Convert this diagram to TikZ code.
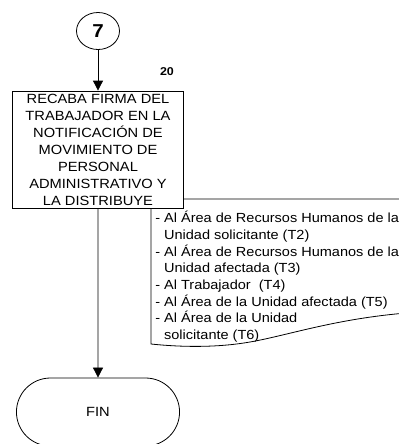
\documentclass[tikz,border=0pt]{standalone}
\usepackage{fontspec}
\setmainfont{Liberation Sans}[FakeStretch=1.1]
\usetikzlibrary{arrows.meta,shapes.misc,shapes.geometric}

\begin{document}
\begin{tikzpicture}[x=0.75pt, y=-0.75pt,
    flecha/.style={-{Triangle[length=7.5pt, width=7.5pt]}, line width=0.6pt},
    caja/.style={draw, fill=white, line width=0.6pt, inner sep=0pt},
    texto/.style={font=\fontsize{10}{12.75}\selectfont}]
    \useasboundingbox (0,0) rectangle (399,444);
    \clip (0,0) rectangle (399,444);
    \coordinate (d1) at (151, 199);
    \coordinate (d2) at (420, 199);
    \coordinate (d3) at (420, 312);
    \coordinate (d4) at (151, 344);
    \draw[line width=0.6pt, fill=white] (d1) -- (d2) -- (d3)
      .. controls (340, 317) and (290, 335) .. (250, 342)
      .. controls (210, 349) and (170, 346) .. (d4) -- cycle;
    \node[ellipse, draw, line width=0.6pt, minimum width=32.25pt, minimum height=27.75pt, inner sep=0pt,
      font=\fontsize{14}{16}\bfseries\selectfont] (c7) at (98, 31) {7};
    \node[font=\fontsize{8.5}{9}\bfseries\selectfont] (n20) at (167, 72) {20};
    \node[caja, texto, align=center, minimum width=128.25pt, minimum height=87.75pt]
      (p20) at (98, 149.5) {RECABA FIRMA DEL\\TRABAJADOR EN LA\\NOTIFICACIÓN DE\\MOVIMIENTO DE\\PERSONAL\\ADMINISTRATIVO Y\\LA DISTRIBUYE};
    \node[font=\fontsize{9.9}{12.5}\selectfont, anchor=north west, align=left, inner sep=0pt]
      (dist) at (155, 211) {- Al Área de Recursos Humanos de la\\\phantom{- }Unidad solicitante (T2)\\- Al Área de Recursos Humanos de la\\\phantom{- }Unidad afectada (T3)\\- Al Trabajador~ (T4)\\- Al Área de la Unidad afectada (T5)\\- Al Área de la Unidad\\\phantom{- }solicitante (T6)};
    \node[rounded rectangle, draw, line width=0.6pt, minimum width=129pt, minimum height=51pt,
      font=\fontsize{10}{12}\selectfont] (fin) at (98, 412) {FIN};
    \draw[flecha] (c7) -- (p20);
    \draw[flecha] (p20) -- (fin);
\end{tikzpicture}
\end{document}
